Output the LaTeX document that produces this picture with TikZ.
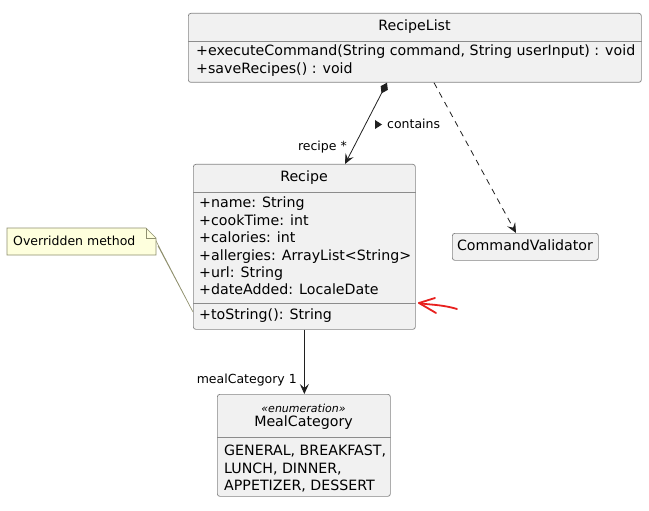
\documentclass[tikz,border=0pt]{standalone}
\usepackage{fontspec}
\setmainfont{DejaVu Sans}
\usetikzlibrary{arrows.meta}
\definecolor{boxfill}{HTML}{F1F1F1}
\definecolor{boxline}{HTML}{858585}
\definecolor{divline}{HTML}{8C8C8C}
\definecolor{notefill}{HTML}{FEFFDD}
\definecolor{noteline}{HTML}{8F8F6F}
\definecolor{edge}{HTML}{202020}
\definecolor{redmark}{HTML}{E8201E}
\begin{document}
\begin{tikzpicture}[x=1pt,y=-1pt,
  classbox/.style={draw=boxline, fill=boxfill, line width=0.7pt, rounded corners=2.5pt, inner sep=0pt, anchor=north west},
  divider/.style={draw=divline, line width=0.7pt},
  cname/.style={inner sep=0pt, text height=10.5pt, text depth=3.5pt, font=\fontsize{14.2}{16}\selectfont},
  member/.style={inner sep=0pt, anchor=west, text height=10.5pt, text depth=3.5pt, font=\fontsize{14.2}{16}\selectfont},
  stereo/.style={inner sep=0pt, font=\fontsize{11}{13}\selectfont\itshape},
  lbl/.style={inner sep=0pt, text height=9.5pt, text depth=3pt, font=\fontsize{12.5}{14}\selectfont},
  notetext/.style={inner sep=0pt, anchor=west, text height=9.5pt, text depth=3pt, font=\fontsize{12.5}{14}\selectfont},
  comp/.style={draw=edge, line width=0.8pt, {Diamond[length=12pt,width=8pt]}-{Stealth[length=10pt,width=9pt,inset=4pt]}},
  assoc/.style={draw=edge, line width=0.8pt, -{Stealth[length=10pt,width=9pt,inset=4pt]}},
  dep/.style={draw=edge, line width=0.8pt, dash pattern=on 6pt off 5pt, -{Stealth[length=10pt,width=9pt,inset=4pt]}},
  redpen/.style={draw=redmark, line width=1.8pt, line cap=round, line join=round}
]
\useasboundingbox[fill=white] (0,0) rectangle (649,511);

% RecipeList
\node[classbox, minimum width=453pt, minimum height=69pt] (rl) at (188,13) {};
\draw[divider] ([yshift=-28pt]rl.north west) -- ([yshift=-28pt]rl.north east);
\node[cname] (rlname) at (414.5,27) {RecipeList};
\node[member] (rlm1) at (196,52) {+executeCommand(String command, String userInput) : void};
\node[member] (rlm2) at (196,70) {+saveRecipes() : void};

% Recipe
\node[classbox, minimum width=222pt, minimum height=165pt] (recipe) at (193,164) {};
\draw[divider] ([yshift=-28pt]recipe.north west) -- ([yshift=-28pt]recipe.north east);
\draw[divider] ([yshift=-139pt]recipe.north west) -- ([yshift=-139pt]recipe.north east);
\node[cname] (recname) at (304,178) {Recipe};
\node[member] (ra1) at (199,204) {+name: String};
\node[member] (ra2) at (199,222) {+cookTime: int};
\node[member] (ra3) at (199,239) {+calories: int};
\node[member] (ra4) at (199,257) {+allergies: ArrayList<String>};
\node[member] (ra5) at (199,274) {+url: String};
\node[member] (ra6) at (199,291) {+dateAdded: LocaleDate};
\node[member] (rm1) at (199,316) {+toString(): String};

% CommandValidator
\node[classbox, minimum width=146pt, minimum height=27pt] (cv) at (452,233) {};
\node[cname] (cvname) at (525,247) {CommandValidator};

% MealCategory
\node[classbox, minimum width=173pt, minimum height=102pt] (mc) at (217,394) {};
\draw[divider] ([yshift=-43pt]mc.north west) -- ([yshift=-43pt]mc.north east);
\node[stereo] (mcst) at (303.5,408) {«enumeration»};
\node[cname] (mcname) at (303.5,423) {MealCategory};
\node[member] (mv1) at (224,452) {GENERAL, BREAKFAST,};
\node[member] (mv2) at (224,470) {LUNCH, DINNER,};
\node[member] (mv3) at (224,487) {APPETIZER, DESSERT};

% Note
\coordinate (n1) at (7,228);
\coordinate (n2) at (146,228);
\coordinate (n3) at (156,238);
\coordinate (n4) at (156,255);
\coordinate (n5) at (7,255);
\coordinate (w1) at (154.5,238);
\coordinate (w2) at (158,246);
\coordinate (wt) at (193,312);
\filldraw[fill=notefill, draw=noteline, line width=0.6pt] (w1) -- (wt) -- (w2);
\filldraw[fill=notefill, draw=noteline, line width=0.6pt] (n1) -- (n2) -- (n3) -- (n4) -- (n5) -- cycle;
\draw[noteline, line width=0.6pt] (n2) -- (146,238) -- (n3);
\node[notetext] (note) at (13,242) {Overridden method};

% Connectors
\draw[comp] ([xshift=199pt]rl.south west) -- ([xshift=152pt]recipe.north west);
\draw[dep] ([xshift=246pt]rl.south west) -- ([xshift=64pt]cv.north west);
\draw[assoc] (recipe.south) -- (recipe.south |- mc.north);

% Labels
\node[lbl, anchor=east] (lrecipe) at (347,147) {recipe *};
\fill[edge] (375,120) -- (382,124.5) -- (375,129) -- cycle;
\node[lbl, anchor=west] (lcontains) at (387,125) {contains};
\node[lbl, anchor=east] (lmeal) at (297,380) {mealCategory 1};

% red hand-drawn mark
\draw[redpen] (435,298) -- (419,303) -- (436,313);
\draw[redpen] (419,303) .. controls (428,305) and (440,304) .. (457,309);
\end{tikzpicture}
\end{document}
